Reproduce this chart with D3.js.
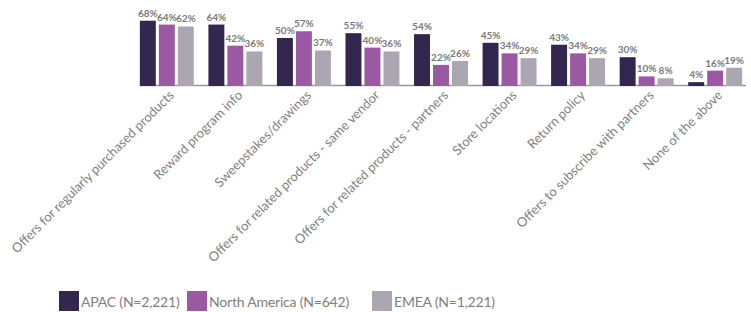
<!DOCTYPE html>
<html>
<head>
<meta charset="utf-8">
<script src="https://cdn.jsdelivr.net/npm/d3@7"></script>
<style>
  body { margin: 0; background: #fff; }
  svg { display: block; font-family: Lato, "Open Sans", sans-serif; }
</style>
</head>
<body>
<svg id="chart" width="751" height="312"></svg>
<script>
const width = 751;
const height = 312;

const categories = [
  "Offers for regularly purchased products",
  "Reward program info",
  "Sweepstakes/drawings",
  "Offers for related products - same vendor",
  "Offers for related products - partners",
  "Store locations",
  "Return policy",
  "Offers to subscribe with partners",
  "None of the above"
];
const seriesNames = ["APAC (N=2,221)", "North America (N=642)", "EMEA (N=1,221)"];
const apac = [68, 64, 50, 55, 54, 45, 43, 30, 4];
const northAmerica = [64, 42, 57, 40, 22, 34, 34, 10, 16];
const emea = [62, 36, 37, 36, 26, 29, 29, 8, 19];
const colors = ["#33264f", "#9b59a3", "#aca5b2"];

const series = [apac, northAmerica, emea];

const svg = d3.select("#chart");

const x = d3.scaleBand()
  .domain(categories)
  .range([133, 749])
  .paddingInner(0.213)
  .paddingOuter(0.1);

const xInner = d3.scaleBand()
  .domain(d3.range(series.length))
  .range([0, x.bandwidth()])
  .paddingInner(0.16);

const y = d3.scaleLinear()
  .domain([0, 100])
  .range([86, -10]);

// axis line
svg.append("line")
  .attr("x1", x(categories[0]))
  .attr("x2", 746)
  .attr("y1", 85.5)
  .attr("y2", 85.5)
  .attr("stroke", "#9a9a9a")
  .attr("stroke-width", 1.5);

const group = svg.selectAll("g.cat")
  .data(categories)
  .enter()
  .append("g")
  .attr("class", "cat")
  .attr("transform", d => `translate(${x(d)},0)`);

group.selectAll("rect")
  .data((d, i) => series.map((s, j) => ({ j, v: s[i] })))
  .enter()
  .append("rect")
  .attr("x", d => xInner(d.j))
  .attr("y", d => y(d.v))
  .attr("width", xInner.bandwidth())
  .attr("height", d => y(0) - y(d.v))
  .attr("fill", d => colors[d.j]);

group.selectAll("text.val")
  .data((d, i) => series.map((s, j) => ({ j, v: s[i] })))
  .enter()
  .append("text")
  .attr("class", "val")
  .attr("x", d => xInner(d.j) + xInner.bandwidth() / 2)
  .attr("y", d => y(d.v) - 4)
  .attr("text-anchor", "middle")
  .attr("font-size", "10px")
  .attr("font-weight", "bold")
  .attr("fill", "#7a7a7a")
  .text(d => d.v + "%");

// category labels
const xAxis = d3.axisBottom(x).tickSize(0).tickSizeOuter(0);
const axisG = svg.append("g")
  .attr("transform", "translate(0,86)")
  .call(xAxis);
axisG.select(".domain").remove();
axisG.selectAll(".tick text")
  .attr("font-family", "Lato, sans-serif")
  .attr("font-size", "13px")
  .attr("fill", "#7f7f7f")
  .attr("text-anchor", "end")
  .attr("dy", null)
  .attr("y", 0)
  .attr("transform", "translate(8,10) rotate(-45)");

// legend
const legendX = [59, 187, 372];
const legend = svg.append("g").attr("transform", "translate(0,291)");
seriesNames.forEach((name, i) => {
  const item = legend.append("g").attr("transform", `translate(${legendX[i]},0)`);
  item.append("rect")
    .attr("width", 20)
    .attr("height", 20)
    .attr("fill", colors[i]);
  item.append("text")
    .attr("x", 22)
    .attr("y", 15.5)
    .attr("font-size", "14px")
    .attr("letter-spacing", "-0.2px")
    .attr("fill", "#808080")
    .text(name);
});
</script>
</body>
</html>
